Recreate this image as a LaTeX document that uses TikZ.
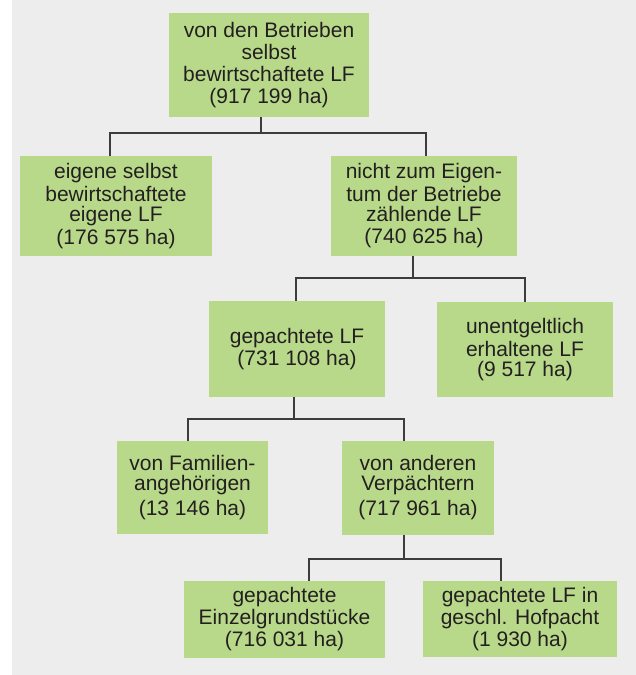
\documentclass[tikz,border=0pt]{standalone}
\usepackage{fontspec}
\setmainfont{Liberation Sans}
\definecolor{boxgreen}{HTML}{B9D98A}
\definecolor{bggray}{HTML}{EDEDED}
\definecolor{txt}{HTML}{231F20}
\definecolor{linec}{HTML}{3C3C3C}
\begin{document}
\begin{tikzpicture}[x=1pt,y=-1pt,
  box/.style={fill=boxgreen, text=txt, align=center, inner sep=0pt,
    font=\fontsize{21pt}{22pt}\selectfont},
  conn/.style={draw=linec, line width=1.2pt}]
\fill[white] (0,0) rectangle (636,675);
\fill[bggray] (12,0) rectangle (636,675);
\useasboundingbox (0,0) rectangle (636,675);

\node[box, minimum width=200pt, minimum height=104pt] (top) at (269,65)
  {von den Betrieben\\selbst\\bewirtschaftete LF\\(917 199 ha)};
\node[box, minimum width=192pt, minimum height=100pt] (L1) at (116,206)
  {eigene selbst\\[1pt]bewirtschaftete\\[-2pt]eigene LF\\[1pt](176 575 ha)};
\node[box, minimum width=186pt, minimum height=100pt] (R1) at (424,206)
  {nicht zum Eigen-\\[1pt]tum der Betriebe\\[-2pt]zählende LF\\[0pt](740 625 ha)};
\node[box, minimum width=176pt, minimum height=96pt] (P) at (297,349)
  {gepachtete LF\\(731 108 ha)};
\node[box, minimum width=176pt, minimum height=95pt] (U) at (525,349.5)
  {unentgeltlich\\[1pt]erhaltene LF\\[-2pt](9 517 ha)};
\node[box, minimum width=151pt, minimum height=93pt] (F) at (192.5,487.5)
  {von Familien-\\[-2pt]angehörigen\\[3pt](13 146 ha)};
\node[box, minimum width=152pt, minimum height=94pt] (A) at (418,488)
  {von anderen\\[-2pt]Verpächtern\\[3pt](717 961 ha)};
\node[box, minimum width=201pt, minimum height=77pt] (E) at (284.5,619.5)
  {gepachtete\\Einzelgrundstücke\\(716 031 ha)};
\node[box, minimum width=194pt, minimum height=76pt] (H) at (520,619)
  {gepachtete LF in\\geschl. Hofpacht\\(1 930 ha)};

\coordinate (j1) at (261,133);
\coordinate (j1l) at (110,133);
\coordinate (j1r) at (426,133);
\coordinate (j2) at (413,278);
\coordinate (j2l) at (296,278);
\coordinate (j2r) at (525,278);
\coordinate (j3) at (294,419);
\coordinate (j3l) at (188,419);
\coordinate (j3r) at (404,419);
\coordinate (j4) at (404,559);
\coordinate (j4l) at (309,559);
\coordinate (j4r) at (501,559);

\draw[conn] (j1 |- top.south) -- (j1);
\draw[conn] (j1l |- L1.north) -- (j1l) -- (j1r) -- (j1r |- R1.north);
\draw[conn] (j2 |- R1.south) -- (j2);
\draw[conn] (j2l |- P.north) -- (j2l) -- (j2r) -- (j2r |- U.north);
\draw[conn] (j3 |- P.south) -- (j3);
\draw[conn] (j3l |- F.north) -- (j3l) -- (j3r) -- (j3r |- A.north);
\draw[conn] (j4 |- A.south) -- (j4);
\draw[conn] (j4l |- E.north) -- (j4l) -- (j4r) -- (j4r |- H.north);
\end{tikzpicture}
\end{document}
